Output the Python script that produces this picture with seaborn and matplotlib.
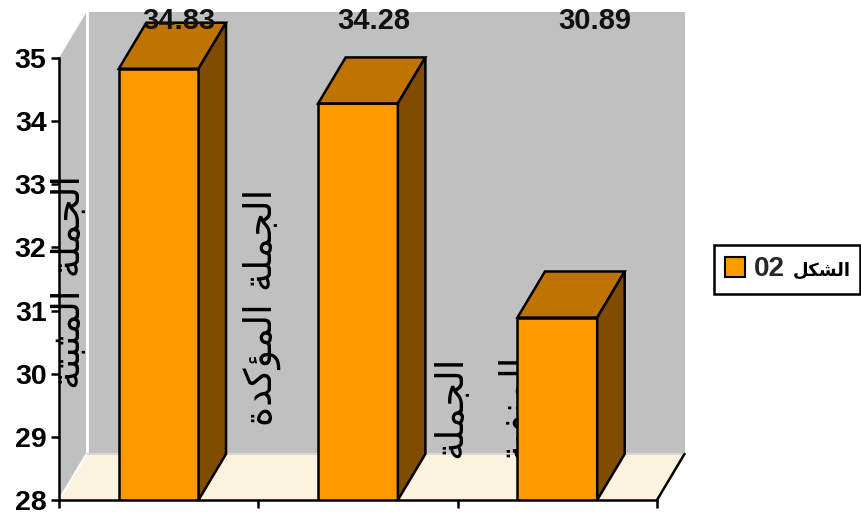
import matplotlib
matplotlib.use("Agg")
import matplotlib.pyplot as plt
import seaborn as sns
from matplotlib.patches import Patch, Polygon

# arabic is stored as shaped presentation forms, reversed because matplotlib does not shape
JUMLA = "\uFE8D\uFEDF\uFEA0\uFEE4\uFEE0\uFE94"[::-1]
MUTHBATA = "\uFE8D\uFEDF\uFEE4\uFE9C\uFE92\uFE98\uFE94"[::-1]
MUAKKADA = "\uFE8D\uFEDF\uFEE4\uFE86\uFEDB\uFEAA\uFE93"[::-1]
MANFIYA = "\uFE8D\uFEDF\uFEE4\uFEE8\uFED4\uFEF4\uFE94"[::-1]
SHAKL = "\uFE8D\uFEDF\uFEB8\uFEDC\uFEDE"[::-1]

categories = ["a", "b", "c"]
values = [34.83, 34.28, 30.89]
value_labels = ["34.83", "34.28", "30.89"]
y_ticks = [28, 29, 30, 31, 32, 33, 34, 35]

ORANGE = "#FF9900"
TOP = "#BF7300"
SIDE = "#804D00"
WALL = "#C0C0C0"
FLOOR = "#FCF3DF"
DX, DY = 0.138, 0.729  # 3d depth in data units
BAR_W = 0.4

sns.set_theme(style="white")
plt.rcParams["font.family"] = ["Liberation Sans", "DejaVu Sans"]

fig = plt.figure(figsize=(8.62, 5.14), dpi=100)
ax = fig.add_axes([59 / 862, 14 / 514, 598 / 862, 442 / 514])
ax.patch.set_alpha(0)

sns.barplot(
    x=categories, y=values, color=ORANGE, saturation=1, width=BAR_W,
    edgecolor="black", linewidth=1.8, ax=ax, zorder=5,
)
ax.set_xlim(-0.5, 2.5)
ax.set_ylim(28, 35)

# walls and floor
x0, x1, y0, y1 = -0.5, 2.5, 28, 35
back_wall = ax.add_patch(Polygon([(x0 + DX, y0 + DY), (x1 + DX, y0 + DY), (x1 + DX, y1 + DY), (x0 + DX, y1 + DY)],
                                 fc=WALL, ec="none", clip_on=False, zorder=1))
ax.add_patch(Polygon([(x0, y0), (x0 + DX, y0 + DY), (x0 + DX, y1 + DY), (x0, y1)],
                     fc=WALL, ec="none", clip_on=False, zorder=1))
ax.plot([x0 + DX, x0 + DX], [y0 + DY, y1 + DY], color="white", lw=2, clip_on=False, zorder=1.5)
ax.add_patch(Polygon([(x0, y0), (x0 + DX, y0 + DY), (x1 + DX, y0 + DY), (x1, y0)],
                     fc=FLOOR, ec="none", clip_on=False, zorder=1))
ax.plot([x0, x0 + DX], [y0, y0 + DY], color="white", lw=1.5, clip_on=False, zorder=1.5)
ax.plot([x0 + DX, x1 + DX], [y0 + DY, y0 + DY], color="#d8d8d8", lw=1.5, clip_on=False, zorder=1.5)
ax.plot([x1, x1 + DX], [y0, y0 + DY], color="black", lw=1.8, clip_on=False, zorder=2)

# bar top and side faces
for i, v in enumerate(values):
    left, right = i - BAR_W / 2, i + BAR_W / 2
    ax.add_patch(Polygon([(left, v), (right, v), (right + DX, v + DY), (left + DX, v + DY)],
                         fc=TOP, ec="black", lw=1.8, clip_on=False, zorder=6, joinstyle="miter"))
    ax.add_patch(Polygon([(right, y0), (right + DX, y0 + DY), (right + DX, v + DY), (right, v)],
                         fc=SIDE, ec="black", lw=1.8, clip_on=False, zorder=6, joinstyle="miter"))

# category labels, rotated, sitting behind the bars
cat_style = dict(rotation=90, ha="center", va="center", fontsize=27.5, color="black",
                 family="DejaVu Sans", zorder=3)
ax.text(-0.445, 31.45, MUTHBATA + " " + JUMLA, clip_on=False, **cat_style)
ax.text(0.52, 31.05, MUAKKADA + " " + JUMLA, clip_on=False, **cat_style)
# the last two are cut off where the back wall meets the floor
for x, text in zip([1.47, 1.79], [JUMLA, MANFIYA]):
    label = ax.text(x, 29.47, text, clip_on=True, **cat_style)
    label.set_clip_path(back_wall)

# value labels sit at the top of the plot, not on the bars
for x, text in zip([0.1, 1.08, 2.19], value_labels):
    ax.text(x, 35.58, text, ha="center", va="center", fontsize=21, fontweight="bold",
            color="#111111", clip_on=False, zorder=8)

ax.set_xticks([-0.5, 0.5, 1.5, 2.5])
ax.set_xticklabels([])
ax.set_yticks(y_ticks)
ax.set_yticklabels(y_ticks, fontsize=20.5, fontweight="bold", color="black", family="Liberation Sans")
ax.tick_params(axis="both", length=6, width=1.8, color="black", left=True, bottom=True, pad=3)
for side in ["top", "right"]:
    ax.spines[side].set_visible(False)
for side in ["left", "bottom"]:
    ax.spines[side].set_linewidth(1.8)
    ax.spines[side].set_color("black")
    ax.spines[side].set_zorder(7)

# the legend number is larger than the arabic word, so the word goes in on its own
leg = ax.legend(
    handles=[Patch(fc=ORANGE, ec="black", lw=1.5, label="02")],
    loc="center left", bbox_to_anchor=(714 / 862, 220 / 514, 146 / 862, 49 / 514),
    bbox_transform=fig.transFigure, mode="expand",
    frameon=True, fancybox=False, edgecolor="black", framealpha=1, handlelength=0.72,
    handleheight=0.72, handletextpad=0.3, borderpad=0.4, borderaxespad=0,
    prop={"size": 20, "weight": "bold", "family": "Liberation Sans"},
)
leg.get_frame().set_linewidth(1.8)
leg.set_zorder(10)
fig.text(822 / 862, 243 / 514, SHAKL, ha="center", va="center", fontsize=13, fontweight="bold",
         family="DejaVu Sans", color="black", zorder=20)

fig.savefig("out.png", dpi=100)
